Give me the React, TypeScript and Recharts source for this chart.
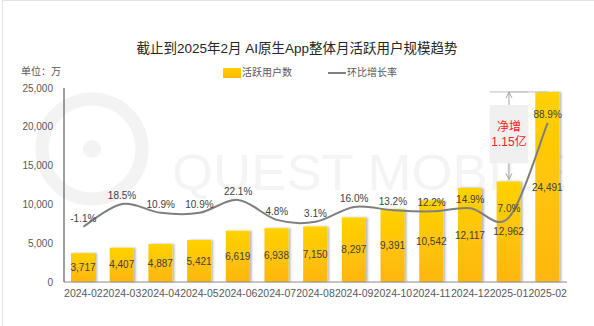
import React from 'react';
import {
  ComposedChart, Bar, Line, XAxis, YAxis, LabelList, ReferenceArea, ReferenceLine,
} from 'recharts';

const months = ['2024-02', '2024-03', '2024-04', '2024-05', '2024-06', '2024-07', '2024-08', '2024-09', '2024-10', '2024-11', '2024-12', '2025-01', '2025-02'];
const activeUsers = [3717, 4407, 4887, 5421, 6619, 6938, 7150, 8297, 9391, 10542, 12117, 12962, 24491];
const momGrowth = [-1.1, 18.5, 10.9, 10.9, 22.1, 4.8, 3.1, 16.0, 13.2, 12.2, 14.9, 7.0, 88.9];
const yTicks = [0, 5000, 10000, 15000, 20000, 25000];
const annotationLines = ['净增', '1.15亿'];
const boxRange = [15300, 22800];

const data = months.map((m, i) => ({ month: m, users: activeUsers[i], rate: momGrowth[i] }));

const FONT = '"Liberation Sans", Arial, "Noto Sans CJK SC", sans-serif';

// Excel-like smoothed line (Catmull-Rom style bezier)
const excelCurve = (context: any) => {
  let pts: number[][] = [];
  return {
    areaStart() {},
    areaEnd() {},
    lineStart() { pts = []; },
    point(x: number, y: number) { pts.push([+x, +y]); },
    lineEnd() {
      if (!pts.length) return;
      context.moveTo(pts[0][0], pts[0][1]);
      for (let i = 0; i < pts.length - 1; i++) {
        const p0 = pts[i - 1] || pts[i];
        const p1 = pts[i];
        const p2 = pts[i + 1];
        const p3 = pts[i + 2] || p2;
        context.bezierCurveTo(
          p1[0] + (p2[0] - p0[0]) / 6, p1[1] + (p2[1] - p0[1]) / 6,
          p2[0] - (p3[0] - p1[0]) / 6, p2[1] - (p3[1] - p1[1]) / 6,
          p2[0], p2[1],
        );
      }
    },
  };
};

const ArrowUp = (p: any) => {
  const { x1, y1, x2, y2 } = p;
  const top = Math.min(y1, y2);
  const bot = Math.max(y1, y2);
  return (
    <g>
      <line x1={x1} y1={top} x2={x2} y2={bot} stroke="#a6a6a6" strokeWidth={1} />
      <path d={`M${x1 - 3},${top + 6} L${x1},${top} L${x1 + 3},${top + 6}`} fill="none" stroke="#a6a6a6" strokeWidth={1} />
    </g>
  );
};

const ArrowDown = (p: any) => {
  const { x1, y1, x2, y2 } = p;
  const top = Math.min(y1, y2);
  const bot = Math.max(y1, y2) - 2;
  return (
    <g>
      <line x1={x1} y1={top} x2={x2} y2={bot} stroke="#a6a6a6" strokeWidth={1} />
      <path d={`M${x1 - 3},${bot - 6} L${x1},${bot} L${x1 + 3},${bot - 6}`} fill="none" stroke="#a6a6a6" strokeWidth={1} />
    </g>
  );
};

const boxLabel = (props: any) => {
  const vb = props.viewBox || {};
  const cx = vb.x + vb.width / 2;
  const cy = vb.y + vb.height / 2;
  return (
    <g>
      {annotationLines.map((t, i) => (
        <text key={t} x={cx} y={cy + (i - 0.5) * 15} textAnchor="middle" dominantBaseline="central"
          fontSize={12} fill="#FF2020" fontFamily={FONT}>{t}</text>
      ))}
    </g>
  );
};

export default function App() {
  return (
    <div style={{ position: 'absolute', left: 0, top: 0, width: 594, height: 326, background: '#fff', fontFamily: FONT, overflow: 'hidden' }}>
      <div style={{ position: 'absolute', left: 2, top: 0, width: 592, height: 326, borderLeft: '1px solid #e3e3e3', borderTop: '1px solid #e3e3e3', boxSizing: 'border-box' }} />
      <svg style={{ position: 'absolute', left: 0, top: 0 }} width={594} height={326}>
        <circle cx={92} cy={149} r={50} fill="none" stroke="#f3f3f3" strokeWidth={13} />
        <circle cx={92} cy={149} r={9} fill="#f3f3f3" />
        <text x={172} y={190} fontSize={50} fill="#f4f4f4" fontFamily={FONT} textLength={395} lengthAdjust="spacingAndGlyphs">QUEST MOBILE</text>
      </svg>
      <div style={{ position: 'absolute', left: 0, top: 40, width: 594, textAlign: 'center', fontSize: 13.5, lineHeight: '18px', color: '#262626' }}>
        截止到2025年2月 AI原生App整体月活跃用户规模趋势
      </div>
      <div style={{ position: 'absolute', left: 21, top: 65, fontSize: 10, lineHeight: '14px', color: '#595959' }}>单位：万</div>
      <div style={{ position: 'absolute', left: 223, top: 68, width: 18, height: 10, background: 'linear-gradient(#FFD000, #FFB800)' }} />
      <div style={{ position: 'absolute', left: 242, top: 66, fontSize: 10, lineHeight: '14px', color: '#595959' }}>活跃用户数</div>
      <div style={{ position: 'absolute', left: 328, top: 72, width: 18, height: 2, background: '#808080' }} />
      <div style={{ position: 'absolute', left: 347, top: 66, fontSize: 10, lineHeight: '14px', color: '#595959' }}>环比增长率</div>
      <div style={{ position: 'absolute', left: 0, top: 0 }}>
        <ComposedChart width={594} height={326} data={data} margin={{ top: 88, right: 27, left: 0, bottom: 14 }}>
          <defs>
            <linearGradient id="barGrad" x1="0" y1="0" x2="0" y2="1">
              <stop offset="0%" stopColor="#FFD200" />
              <stop offset="100%" stopColor="#FFB612" />
            </linearGradient>
            <filter id="barShadow" x="-30%" y="-5%" width="160%" height="110%">
              <feDropShadow dx="2" dy="0" stdDeviation="1.2" floodColor="#000" floodOpacity="0.28" />
            </filter>
          </defs>
          <XAxis dataKey="month" interval={0} tickLine={false} axisLine={{ stroke: '#8c8c8c' }} height={30}
            tick={{ fontSize: 10.5, fill: '#595959', fontFamily: FONT }} />
          <YAxis yAxisId="left" width={64} domain={[0, 25000]} ticks={yTicks} tickLine={false}
            axisLine={{ stroke: '#404040' }} tickMargin={5}
            tickFormatter={(v: number) => v.toLocaleString('en-US')}
            tick={{ fontSize: 10, fill: '#595959', fontFamily: FONT }} />
          <YAxis yAxisId="rate" orientation="right" hide domain={[-49, 119]} />
          <Bar yAxisId="left" dataKey="users" barSize={24} fill="url(#barGrad)" filter="url(#barShadow)" isAnimationActive={false}>
            <LabelList dataKey="users" position="center" fontSize={10} fill="#404040" fontFamily={FONT}
              formatter={(v: any) => Number(v).toLocaleString('en-US')} />
          </Bar>
          <ReferenceLine yAxisId="left" position="start" segment={[{ x: '2025-01', y: activeUsers[12] }, { x: '2025-02', y: activeUsers[12] }]} stroke="#bfbfbf" />
          <ReferenceLine yAxisId="left" position="middle" segment={[{ x: '2025-01', y: activeUsers[12] }, { x: '2025-02', y: activeUsers[12] }]} stroke="#bfbfbf" />
          <ReferenceLine yAxisId="left" position="middle" segment={[{ x: '2025-01', y: activeUsers[12] }, { x: '2025-01', y: boxRange[1] }]} shape={ArrowUp} />
          <ReferenceLine yAxisId="left" position="middle" segment={[{ x: '2025-01', y: boxRange[0] }, { x: '2025-01', y: activeUsers[11] }]} shape={ArrowDown} />
          <ReferenceArea yAxisId="left" x1="2025-01" x2="2025-01" y1={boxRange[0]} y2={boxRange[1]} fill="#f0f0f0" fillOpacity={1} stroke="none" label={boxLabel} />
          <Line yAxisId="rate" dataKey="rate" type={excelCurve as any} stroke="#7f7f7f" strokeWidth={2} dot={false} isAnimationActive={false}>
            <LabelList dataKey="rate" position="top" offset={5} fontSize={10} fill="#404040" fontFamily={FONT}
              formatter={(v: any) => `${Number(v).toFixed(1)}%`} />
          </Line>
        </ComposedChart>
      </div>
    </div>
  );
}
